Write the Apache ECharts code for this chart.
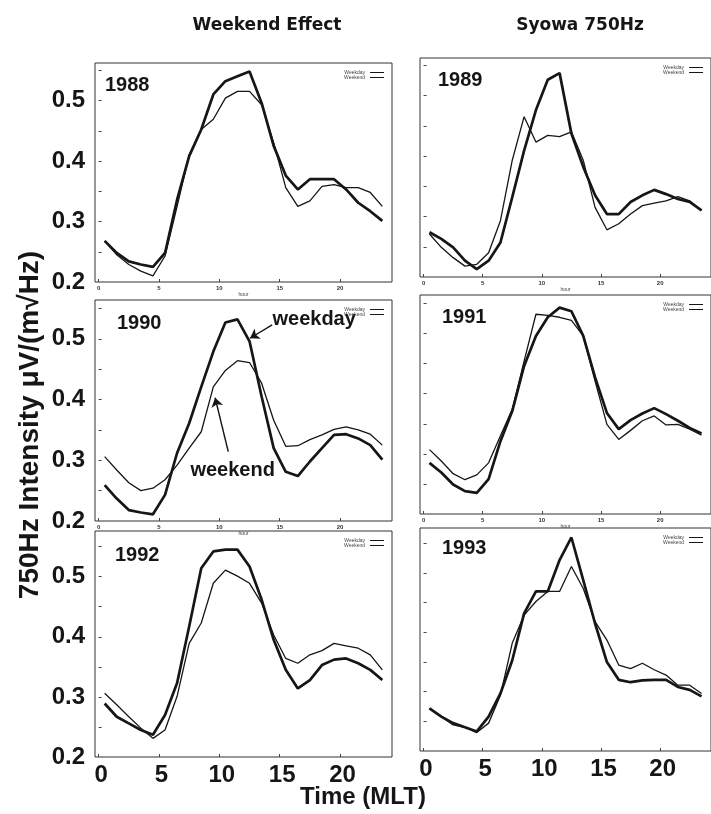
<!DOCTYPE html>
<html>
<head>
<meta charset="utf-8">
<title>Weekend Effect - Syowa 750Hz</title>
<script src="https://cdn.jsdelivr.net/npm/echarts@6.0.0/dist/echarts.min.js"></script>
<style>
  html, body { margin: 0; padding: 0; background: #fff; }
  #chart { width: 711px; height: 814px; }
</style>
</head>
<body>
<div id="chart"></div>
<script>
// hour (MLT) of each sample
const hours = [0.5, 1.5, 2.5, 3.5, 4.5, 5.5, 6.5, 7.5, 8.5, 9.5, 10.5, 11.5,
  12.5, 13.5, 14.5, 15.5, 16.5, 17.5, 18.5, 19.5, 20.5, 21.5, 22.5, 23.5]
const years = ['1988', '1989', '1990', '1991', '1992', '1993']
const xTicks = [0, 5, 10, 15, 20]
const yTicks = [0.2, 0.3, 0.4, 0.5]

// 750Hz intensity, weekday (thick) / weekend (thin)
const weekday1988 = [0.268, 0.248, 0.234, 0.229, 0.225, 0.248, 0.336, 0.408, 0.452, 0.51, 0.532, 0.54,
  0.548, 0.496, 0.425, 0.376, 0.353, 0.37, 0.37, 0.37, 0.353, 0.331, 0.317, 0.301]
const weekend1988 = [0.268, 0.245, 0.229, 0.218, 0.21, 0.243, 0.325, 0.41, 0.452, 0.469, 0.504, 0.515,
  0.515, 0.493, 0.43, 0.356, 0.325, 0.334, 0.358, 0.361, 0.356, 0.356, 0.348, 0.325]
const weekday1989 = [0.274, 0.263, 0.249, 0.227, 0.213, 0.227, 0.257, 0.332, 0.409, 0.476, 0.526, 0.537,
  0.437, 0.382, 0.335, 0.304, 0.304, 0.324, 0.335, 0.344, 0.337, 0.329, 0.324, 0.31]
const weekend1989 = [0.271, 0.249, 0.232, 0.218, 0.221, 0.24, 0.293, 0.393, 0.465, 0.423, 0.434, 0.432,
  0.44, 0.393, 0.315, 0.278, 0.288, 0.304, 0.318, 0.322, 0.326, 0.333, 0.326, 0.31]
const weekday1990 = [0.259, 0.237, 0.218, 0.214, 0.211, 0.243, 0.312, 0.361, 0.421, 0.479, 0.527, 0.532,
  0.496, 0.405, 0.32, 0.281, 0.274, 0.298, 0.32, 0.342, 0.343, 0.336, 0.325, 0.301]
const weekend1990 = [0.306, 0.284, 0.263, 0.25, 0.254, 0.268, 0.292, 0.32, 0.347, 0.421, 0.448, 0.464,
  0.461, 0.427, 0.366, 0.323, 0.324, 0.334, 0.342, 0.351, 0.355, 0.35, 0.343, 0.325]
const weekday1991 = [0.285, 0.269, 0.249, 0.238, 0.235, 0.258, 0.321, 0.371, 0.446, 0.496, 0.527, 0.543,
  0.537, 0.496, 0.427, 0.368, 0.341, 0.356, 0.367, 0.376, 0.366, 0.355, 0.343, 0.334]
const weekend1991 = [0.307, 0.288, 0.267, 0.257, 0.265, 0.285, 0.33, 0.374, 0.454, 0.532, 0.53, 0.527,
  0.522, 0.496, 0.421, 0.349, 0.324, 0.339, 0.355, 0.363, 0.348, 0.349, 0.341, 0.331]
const weekday1992 = [0.289, 0.267, 0.256, 0.245, 0.237, 0.27, 0.323, 0.417, 0.514, 0.542, 0.545, 0.545,
  0.517, 0.462, 0.395, 0.345, 0.314, 0.328, 0.353, 0.362, 0.364, 0.356, 0.345, 0.328]
const weekend1992 = [0.306, 0.287, 0.267, 0.248, 0.231, 0.245, 0.301, 0.389, 0.423, 0.489, 0.511, 0.501,
  0.489, 0.456, 0.403, 0.364, 0.356, 0.37, 0.377, 0.389, 0.385, 0.381, 0.37, 0.345]
const weekday1993 = [0.272, 0.258, 0.247, 0.24, 0.233, 0.258, 0.297, 0.353, 0.432, 0.469, 0.469, 0.522,
  0.56, 0.488, 0.415, 0.35, 0.32, 0.316, 0.319, 0.32, 0.32, 0.308, 0.303, 0.292]
const weekend1993 = [0.272, 0.258, 0.244, 0.24, 0.231, 0.247, 0.294, 0.382, 0.429, 0.452, 0.469, 0.469,
  0.511, 0.474, 0.418, 0.387, 0.345, 0.339, 0.348, 0.337, 0.328, 0.311, 0.311, 0.297]

const weekdays = [weekday1988, weekday1989, weekday1990, weekday1991, weekday1992, weekday1993]
const weekends = [weekend1988, weekend1989, weekend1990, weekend1991, weekend1992, weekend1993]

// panel boxes (the scan is slightly skewed, so each one is placed on its own)
const boxes = [
  { left: 95, top: 63, width: 297, height: 219, yMax: 0.562 },
  { left: 420, top: 58, width: 300, height: 219, yMax: 0.562 },
  { left: 95, top: 300, width: 297, height: 221, yMax: 0.564 },
  { left: 420, top: 295, width: 300, height: 219, yMax: 0.564 },
  { left: 95, top: 531, width: 297, height: 226, yMax: 0.576 },
  { left: 420, top: 528, width: 300, height: 223, yMax: 0.576 }
]
const yearPos = [[105, 85], [438, 80], [117, 323], [442, 317], [115, 555], [442, 548]]

const ink = '#161616'
const font = '"Liberation Sans", Arial, Helvetica, sans-serif'

let grid = [], xAxis = [], yAxis = [], series = [], legend = []

boxes.forEach(function (b, i) {
  let leftCol = i % 2 === 0
  let bottomRow = i >= 4
  grid.push({
    left: b.left, top: b.top, width: b.width, height: b.height,
    show: true, borderColor: '#333', borderWidth: 1, backgroundColor: 'transparent'
  })
  xAxis.push({
    type: 'value', gridIndex: i, min: -0.3, max: 24.3,
    axisLine: { show: false },
    splitLine: { show: false },
    axisTick: { show: true, inside: true, length: 3, lineStyle: { color: '#444' }, customValues: xTicks },
    axisLabel: bottomRow
      ? { customValues: xTicks, fontSize: 24, fontWeight: 'bold', color: ink, fontFamily: font, margin: 6,
          padding: [0, 0, 0, 5] }
      : { customValues: xTicks, fontSize: 6, fontWeight: 'bold', color: '#333', fontFamily: font, margin: 3 },
    name: bottomRow ? '' : 'hour',
    nameLocation: 'middle', nameGap: 10,
    nameTextStyle: { fontSize: 5, color: '#444', fontFamily: font }
  })
  yAxis.push({
    type: 'value', gridIndex: i, min: 0.2, max: b.yMax,
    axisLine: { show: false },
    splitLine: { show: false },
    axisTick: { show: true, inside: true, length: 3, lineStyle: { color: '#444' },
      customValues: [0.25, 0.3, 0.35, 0.4, 0.45, 0.5, 0.55] },
    axisLabel: {
      show: leftCol, customValues: yTicks, fontSize: 24, fontWeight: 'bold', color: ink, fontFamily: font, margin: 10,
      formatter: function (v) { return v.toFixed(1) }
    }
  })
  series.push({
    name: 'Weekday', type: 'line', xAxisIndex: i, yAxisIndex: i,
    data: hours.map(function (h, k) { return [h, weekdays[i][k]] }),
    showSymbol: false, smooth: false, z: 3,
    lineStyle: { color: ink, width: 2.7 }, itemStyle: { color: ink }
  })
  series.push({
    name: 'Weekend', type: 'line', xAxisIndex: i, yAxisIndex: i,
    data: hours.map(function (h, k) { return [h, weekends[i][k]] }),
    showSymbol: false, smooth: false, z: 2,
    lineStyle: { color: ink, width: 1.3 }, itemStyle: { color: ink }
  })
  legend.push({
    left: b.left + (leftCol ? 244 : 238), top: b.top + 2,
    orient: 'vertical', align: 'right', itemGap: 0,
    itemWidth: 14, itemHeight: 4, icon: 'path://M0,0H14V1H0Z',
    selectedMode: false,
    textStyle: { fontSize: 5, color: '#444', fontFamily: font, padding: [0, 0, 0, 0] },
    data: [{ name: 'Weekday' }, { name: 'Weekend' }]
  })
})

// annotation arrows on the 1990 panel, in data units: [from, to]
const arrowWeekday = [[14.37, 0.523], [12.54, 0.501]]
const arrowWeekend = [[10.74, 0.314], [9.65, 0.403]]
series[4].markLine = {
  silent: true, symbol: ['none', 'arrow'], symbolSize: 9,
  lineStyle: { color: ink, width: 1.4, type: 'solid' },
  label: { show: false },
  data: [
    [{ coord: arrowWeekday[0] }, { coord: arrowWeekday[1] }],
    [{ coord: arrowWeekend[0] }, { coord: arrowWeekend[1] }]
  ]
}

let graphic = []
years.forEach(function (y, i) {
  graphic.push({
    type: 'text', x: yearPos[i][0], y: yearPos[i][1],
    style: { text: y, font: 'bold 20px ' + font, fill: ink, textVerticalAlign: 'middle' }
  })
})
graphic.push(
  { type: 'text', x: 267, y: 26, style: { text: 'Weekend Effect', font: 'bold 17px "DejaVu Sans", sans-serif', fill: ink, textAlign: 'center', textVerticalAlign: 'middle' } },
  { type: 'text', x: 580, y: 26, style: { text: 'Syowa 750Hz', font: 'bold 17px "DejaVu Sans", sans-serif', fill: ink, textAlign: 'center', textVerticalAlign: 'middle' } },
  { type: 'text', x: 363, y: 797, style: { text: 'Time (MLT)', font: 'bold 24px ' + font, fill: ink, textAlign: 'center', textVerticalAlign: 'middle' } },
  { type: 'text', x: 30, y: 425, rotation: Math.PI / 2,
    style: { text: '750Hz Intensity \u03bcV/(m\u221aHz)', font: 'bold 28px ' + font, fill: ink, textAlign: 'center', textVerticalAlign: 'middle' } }
)

let chart = echarts.init(document.getElementById('chart'), null, { renderer: 'canvas' })
chart.setOption({
  animation: false,
  backgroundColor: '#fff',
  grid: grid, xAxis: xAxis, yAxis: yAxis, series: series, legend: legend, graphic: graphic
})

// the two word labels of the 1990 panel, placed through the axes
let pWeekday = chart.convertToPixel({ gridIndex: 2 }, [14.4, 0.532])
let pWeekend = chart.convertToPixel({ gridIndex: 2 }, [7.6, 0.284])
graphic.push(
  { type: 'text', x: pWeekday[0], y: pWeekday[1], style: { text: 'weekday', font: 'bold 20px ' + font, fill: ink, textVerticalAlign: 'middle' } },
  { type: 'text', x: pWeekend[0], y: pWeekend[1], style: { text: 'weekend', font: 'bold 20px ' + font, fill: ink, textVerticalAlign: 'middle' } }
)
chart.setOption({ graphic: graphic })
</script>
</body>
</html>
